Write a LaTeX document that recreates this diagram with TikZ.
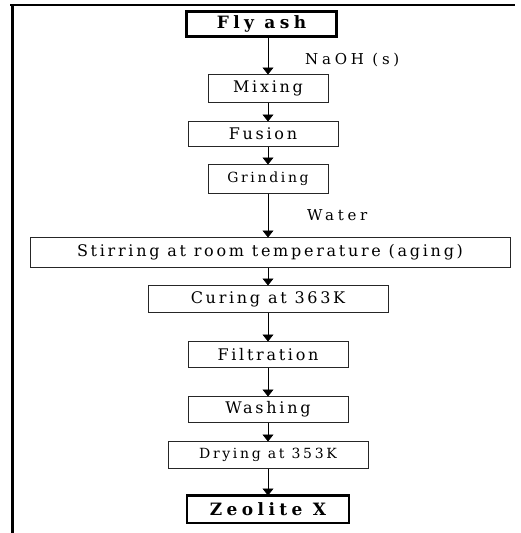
\documentclass[tikz,border=0pt]{standalone}
\usepackage{fontspec}
\setmainfont{DejaVu Serif}[LetterSpace=17]
\usetikzlibrary{arrows.meta, positioning}

\begin{document}
\begin{tikzpicture}[
    x=1pt, y=-1pt,
    stepbox/.style={rectangle, draw=black!85, line width=0.8pt, align=center, minimum height=27pt, inner sep=0pt, outer sep=0pt, font=\fontsize{16}{18}\selectfont},
    smallbox/.style={stepbox, font=\fontsize{14}{16}\selectfont\addfontfeature{LetterSpace=19}},
    endbox/.style={stepbox, draw=black, line width=2.6pt, font=\fontsize{17}{18}\selectfont\bfseries\addfontfeature{LetterSpace=26}},
    arrow/.style={-{Triangle[width=11pt, length=7pt]}, line width=0.8pt},
    feed/.style={anchor=west, inner sep=0pt, font=\fontsize{15}{16}\selectfont\addfontfeature{LetterSpace=25}}
]
\useasboundingbox (0,0) rectangle (520,533);

% frame
\draw[line width=2pt] (10,5) -- (515,5);
\draw[line width=3pt] (12,4) -- (12,533);

\coordinate (axis) at (268,0);

\node[endbox, minimum width=150pt, minimum height=25pt] (fly) at (261.5,24) {Fly ash};
\node[stepbox, minimum width=120pt, minimum height=28pt, below=38pt of fly, xshift=6.5pt] (mix) {Mixing};
\node[stepbox, minimum width=150pt, minimum height=25pt, below=19pt of mix, xshift=-5pt] (fus) {Fusion};
\node[smallbox, minimum width=120pt, minimum height=29pt, below=18pt of fus, xshift=5pt] (grind) {Grinding};
\node[stepbox, minimum width=480pt, minimum height=30pt, below=44pt of grind, xshift=2pt] (stir) {Stirring at room temperature (aging)};
\node[stepbox, minimum width=240pt, below=18pt of stir, xshift=-2pt] (cure) {Curing at 363K};
\node[stepbox, minimum width=160pt, minimum height=26pt, below=29pt of cure] (filt) {Filtration};
\node[stepbox, minimum width=160pt, minimum height=26pt, below=29pt of filt] (wash) {Washing};
\node[smallbox, minimum width=200pt, below=19pt of wash] (dry) {Drying at 353K};
\node[endbox, minimum width=162pt, minimum height=27.5pt, below=27pt of dry] (zeo) {Zeolite X};

\node[feed] (naoh) at (305,60) {NaOH (s)};
\node[feed] (water) at (307,215) {Water};

\foreach \a/\b in {fly/mix, mix/fus, fus/grind, grind/stir, stir/cure, cure/filt, filt/wash, wash/dry, dry/zeo}
    \draw[arrow] (\a.south -| axis) -- (\b.north -| axis);

\end{tikzpicture}
\end{document}
